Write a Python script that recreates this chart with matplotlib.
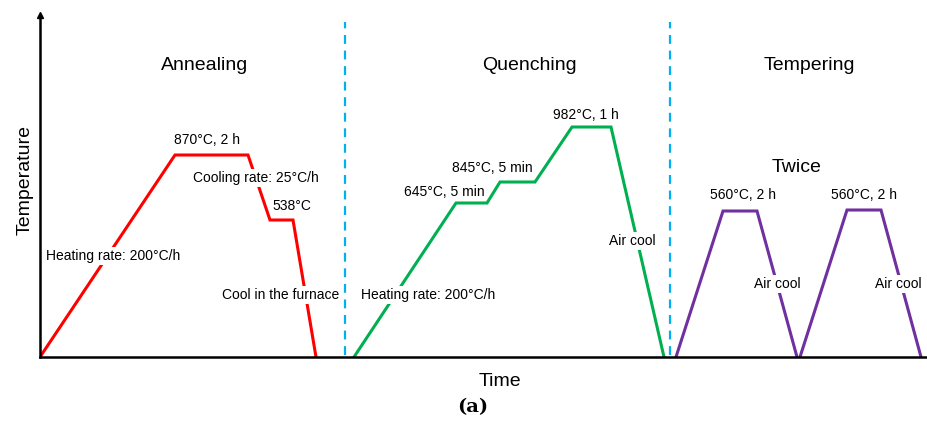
import matplotlib
matplotlib.use("Agg")
import matplotlib.pyplot as plt

plt.rcParams["font.family"] = ["Liberation Sans", "DejaVu Sans"]

# heat-treatment schedule (time units, temperature units measured from the axis origin)
anneal_t = [0, 135, 208, 230, 253, 276]
anneal_T = [0, 202, 202, 137, 137, 0]
quench_t = [314, 416, 447, 460, 495, 532, 571, 624]
quench_T = [0, 154, 154, 175, 175, 230, 230, 0]
temper1_t = [636, 683, 717, 757]
temper1_T = [0, 146, 146, 0]
temper2_t = [760, 807, 841, 881]
temper2_T = [0, 147, 147, 0]
dividers = [305, 630]

stage_names = ["Annealing", "Quenching", "Tempering"]
stage_x = [165, 489, 769]

# annotations: (text, x, y)
notes = [
    ("870°C, 2 h", 167, 217),
    ("Cooling rate: 25°C/h", 216, 179),
    ("538°C", 252, 151),
    ("Heating rate: 200°C/h", 73, 101),
    ("Cool in the furnace", 241, 62),
    ("982°C, 1 h", 546, 242),
    ("845°C, 5 min", 452, 189),
    ("645°C, 5 min", 404, 165),
    ("Air cool", 592, 116),
    ("Heating rate: 200°C/h", 388, 62),
    ("560°C, 2 h", 703, 162),
    ("560°C, 2 h", 824, 162),
    ("Air cool", 737, 73),
    ("Air cool", 858, 73),
]

fig = plt.figure(figsize=(9.28, 4.23), dpi=100)
W, H = 928, 423
ax = fig.add_axes([40 / W, (H - 357) / H, 888 / W, (357 - 15) / H])
ax.set_xlim(0, 888)
ax.set_ylim(0, 342)

ax.plot(anneal_t, anneal_T, color="#ff0000", lw=2.2, solid_joinstyle="miter")
ax.plot(quench_t, quench_T, color="#00b050", lw=2.2, solid_joinstyle="miter")
ax.plot(temper1_t, temper1_T, color="#7030a0", lw=2.2, solid_joinstyle="miter")
ax.plot(temper2_t, temper2_T, color="#7030a0", lw=2.2, solid_joinstyle="miter")
for d in dividers:
    ax.plot([d, d], [2, 335], color="#00b0f0", lw=1.6, ls=(0, (4, 3)))

for name, x in zip(stage_names, stage_x):
    ax.text(x, 292, name, ha="center", va="center", fontsize=14)
ax.text(757, 190, "Twice", ha="center", va="center", fontsize=14)

for txt, x, y in notes:
    ax.text(x, y, txt, ha="center", va="center", fontsize=10, zorder=5,
            bbox=dict(facecolor="white", edgecolor="none", pad=1.5))

for s in ["top", "right"]:
    ax.spines[s].set_visible(False)
ax.spines["left"].set_linewidth(1.8)
ax.spines["bottom"].set_linewidth(1.8)
ax.set_xticks([])
ax.set_yticks([])
ax.plot([0], [342], marker="^", color="black", markersize=5, clip_on=False)

fig.text(25 / W, 1 - 180 / H, "Temperature", rotation=90, ha="center", va="center", fontsize=14)
fig.text(500 / W, 1 - 381 / H, "Time", ha="center", va="center", fontsize=14)
fig.text(473 / W, 1 - 407 / H, "(a)", ha="center", va="center", fontsize=14,
         family=["DejaVu Serif"], fontweight="bold")

fig.savefig("out.png", dpi=100)
